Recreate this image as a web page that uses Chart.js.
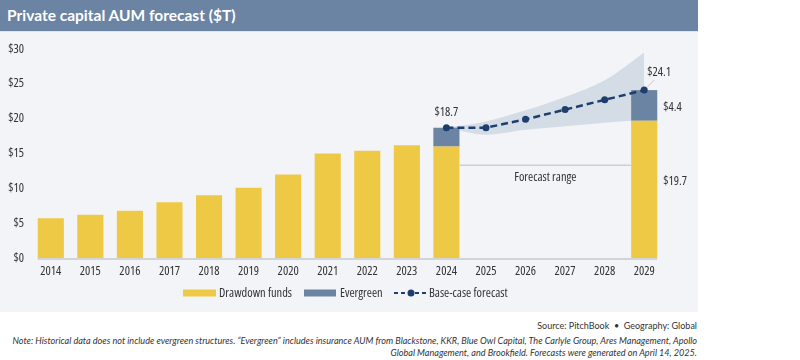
<!DOCTYPE html>
<html>
<head>
<meta charset="utf-8">
<script src="https://cdn.jsdelivr.net/npm/chart.js@4/dist/chart.umd.min.js"></script>
<style>
  body { margin: 0; width: 800px; height: 360px; background: #fff; position: relative; overflow: hidden; font-family: Lato, "Open Sans", sans-serif; }
  #header { position: absolute; left: 0; top: 0; width: 698px; height: 31px; background: #6b84a3; border-bottom: 1px solid #dfe4ec; }
  #header span { position: absolute; left: 7px; top: 6px; color: #fff; font: bold 15.5px Lato, sans-serif; }
  #panel { position: absolute; left: 0; top: 32px; width: 698px; height: 280px; background: #f2f4f8; }
  #panel canvas { display: block; }
  #source { position: absolute; right: 103px; top: 320px; font-size: 9px; color: #333; }
  #note { position: absolute; right: 103px; top: 335px; width: 700px; text-align: right; font-size: 9.1px; line-height: 12px; font-style: italic; color: #333; }
</style>
</head>
<body>
<div id="header"><span>Private capital AUM forecast ($T)</span></div>
<div id="panel"><canvas id="aumChart" width="698" height="280"></canvas></div>
<div id="source">Source: PitchBook&nbsp; •&nbsp; Geography: Global</div>
<div id="note">Note: Historical data does not include evergreen structures. “Evergreen” includes insurance AUM from Blackstone, KKR, Blue Owl Capital, The Carlyle Group, Ares Management, Apollo<br>Global Management, and Brookfield. Forecasts were generated on April 14, 2025.</div>
<script>
// chart data
const years = ['2014', '2015', '2016', '2017', '2018', '2019', '2020', '2021', '2022', '2023', '2024', '2025', '2026', '2027', '2028', '2029'];
const drawdown = [5.7, 6.2, 6.8, 8.0, 9.0, 10.1, 12.0, 15.0, 15.4, 16.2, 16.0, null, null, null, null, 19.7];
const evergreen = [null, null, null, null, null, null, null, null, null, null, 2.7, null, null, null, null, 4.4];
const baseCase = [null, null, null, null, null, null, null, null, null, null, 18.7, 18.7, 19.9, 21.3, 22.7, 24.1];
const bandLow = [null, null, null, null, null, null, null, null, null, null, 18.7, 17.7, 18.4, 18.9, 19.4, 19.8];
const bandHigh = [null, null, null, null, null, null, null, null, null, null, 18.7, 19.6, 21.2, 23.1, 25.5, 29.5];
const yTicks = [0, 5, 10, 15, 20, 25, 30];

const YELLOW = '#eec945';
const SLATE = '#6b84a3';
const NAVY = '#1d3f6e';
const BAND = '#d4dce6';
const TEXT = '#333333';
// condensed Open Sans (the stretch keyword rides along in the weight slot of the font string)
const tickFont = { family: '"Open Sans", sans-serif', size: 12.4, weight: 'condensed' };
const labelFont = 'condensed 12.4px "Open Sans", sans-serif';

// labels, baseline, forecast range and legend
const extras = {
    id: 'extras',
    afterDatasetsDraw(chart) {
        const ctx = chart.ctx;
        const x = chart.scales.x, y = chart.scales.y;
        const bars = chart.getDatasetMeta(2).data;
        const first = bars[0], last = bars[years.length - 1];
        const i24 = years.indexOf('2024'), i29 = years.indexOf('2029');
        ctx.save();

        // baseline
        ctx.strokeStyle = '#c8cacd';
        ctx.lineWidth = 1.5;
        ctx.beginPath();
        ctx.moveTo(first.x - first.width / 2, y.getPixelForValue(0) + 1);
        ctx.lineTo(last.x + last.width / 2, y.getPixelForValue(0) + 1);
        ctx.stroke();

        // forecast range line
        const b24 = bars[i24], b29 = bars[i29];
        const fy = y.getPixelForValue(13.3);
        ctx.strokeStyle = '#cfcfcf';
        ctx.lineWidth = 1.5;
        ctx.beginPath();
        ctx.moveTo(b24.x + b24.width / 2, fy);
        ctx.lineTo(b29.x - b29.width / 2, fy);
        ctx.stroke();

        ctx.font = labelFont;
        ctx.fillStyle = TEXT;
        ctx.textAlign = 'center';
        ctx.textBaseline = 'middle';
        ctx.fillText('Forecast range', (b24.x + b29.x) / 2, fy + 12);

        // value labels
        const x24 = x.getPixelForValue(i24), x29 = x.getPixelForValue(i29);
        ctx.fillText('$' + baseCase[i24].toFixed(1), x24, y.getPixelForValue(baseCase[i24]) - 15);
        const ty = y.getPixelForValue(baseCase[i29]);
        ctx.strokeStyle = '#bbbbbb';
        ctx.lineWidth = 0.8;
        ctx.beginPath();
        ctx.moveTo(x29 + 3, ty - 3);
        ctx.lineTo(x29 + 10, ty - 10);
        ctx.stroke();
        ctx.textAlign = 'left';
        ctx.fillText('$' + baseCase[i29].toFixed(1), x29 + 3, ty - 18);
        const right = b29.x + b29.width / 2 + 6;
        ctx.fillText('$' + evergreen[i29].toFixed(1), right, y.getPixelForValue(drawdown[i29] + evergreen[i29] / 2) + 2);
        ctx.fillText('$' + drawdown[i29].toFixed(1), right, y.getPixelForValue(drawdown[i29] / 2) - 8);

        // legend
        const ly = 261;
        ctx.fillStyle = YELLOW;
        ctx.fillRect(183, ly - 3.5, 33, 7);
        ctx.fillStyle = SLATE;
        ctx.fillRect(304, ly - 3.5, 32, 7);
        ctx.fillStyle = TEXT;
        ctx.fillText('Drawdown funds', 219, ly);
        ctx.fillText('Evergreen', 340, ly);
        ctx.strokeStyle = NAVY;
        ctx.lineWidth = 2;
        ctx.setLineDash([4, 3]);
        ctx.beginPath();
        ctx.moveTo(394, ly);
        ctx.lineTo(428, ly);
        ctx.stroke();
        ctx.setLineDash([]);
        ctx.fillStyle = NAVY;
        ctx.beginPath();
        ctx.arc(411, ly, 3.5, 0, Math.PI * 2);
        ctx.fill();
        ctx.fillStyle = TEXT;
        ctx.fillText('Base-case forecast', 429, ly);
        ctx.restore();
    }
};

new Chart(document.getElementById('aumChart'), {
    type: 'bar',
    data: {
        labels: years,
        datasets: [
            { type: 'line', label: 'Low', data: bandLow, stack: 'low', order: 3, borderWidth: 0, pointRadius: 0, fill: false, cubicInterpolationMode: 'monotone' },
            { type: 'line', label: 'High', data: bandHigh, stack: 'high', order: 3, borderWidth: 0, pointRadius: 0, backgroundColor: BAND, fill: '-1', cubicInterpolationMode: 'monotone' },
            { label: 'Drawdown funds', data: drawdown, stack: 'bars', order: 2, backgroundColor: YELLOW },
            { label: 'Evergreen', data: evergreen, stack: 'bars', order: 2, backgroundColor: SLATE },
            { type: 'line', label: 'Base-case forecast', data: baseCase, stack: 'line', order: 1, borderColor: NAVY, borderWidth: 2.5, borderDash: [7, 4], pointRadius: 3.5, pointBackgroundColor: NAVY, pointBorderWidth: 0, fill: false, tension: 0 }
        ]
    },
    options: {
        responsive: false,
        animation: false,
        devicePixelRatio: 1,
        categoryPercentage: 1,
        barPercentage: 0.66,
        layout: { padding: { left: 0, right: 34, top: 17, bottom: 34 } },
        plugins: { legend: { display: false }, tooltip: { enabled: false } },
        scales: {
            x: {
                stacked: true,
                grid: { display: false, drawTicks: false },
                border: { display: false },
                ticks: { color: TEXT, font: tickFont, padding: 6, maxRotation: 0, autoSkip: false },
                afterFit: s => { s.height = 20; }
            },
            y: {
                stacked: true,
                min: 0,
                max: 30,
                afterBuildTicks: s => { s.ticks = yTicks.map(v => ({ value: v })); },
                grid: { display: false, drawTicks: false },
                border: { display: false },
                ticks: { color: TEXT, font: tickFont, padding: 7, callback: v => '$' + v },
                afterFit: s => { s.width = 31; }
            }
        }
    },
    plugins: [extras]
});
</script>
</body>
</html>
